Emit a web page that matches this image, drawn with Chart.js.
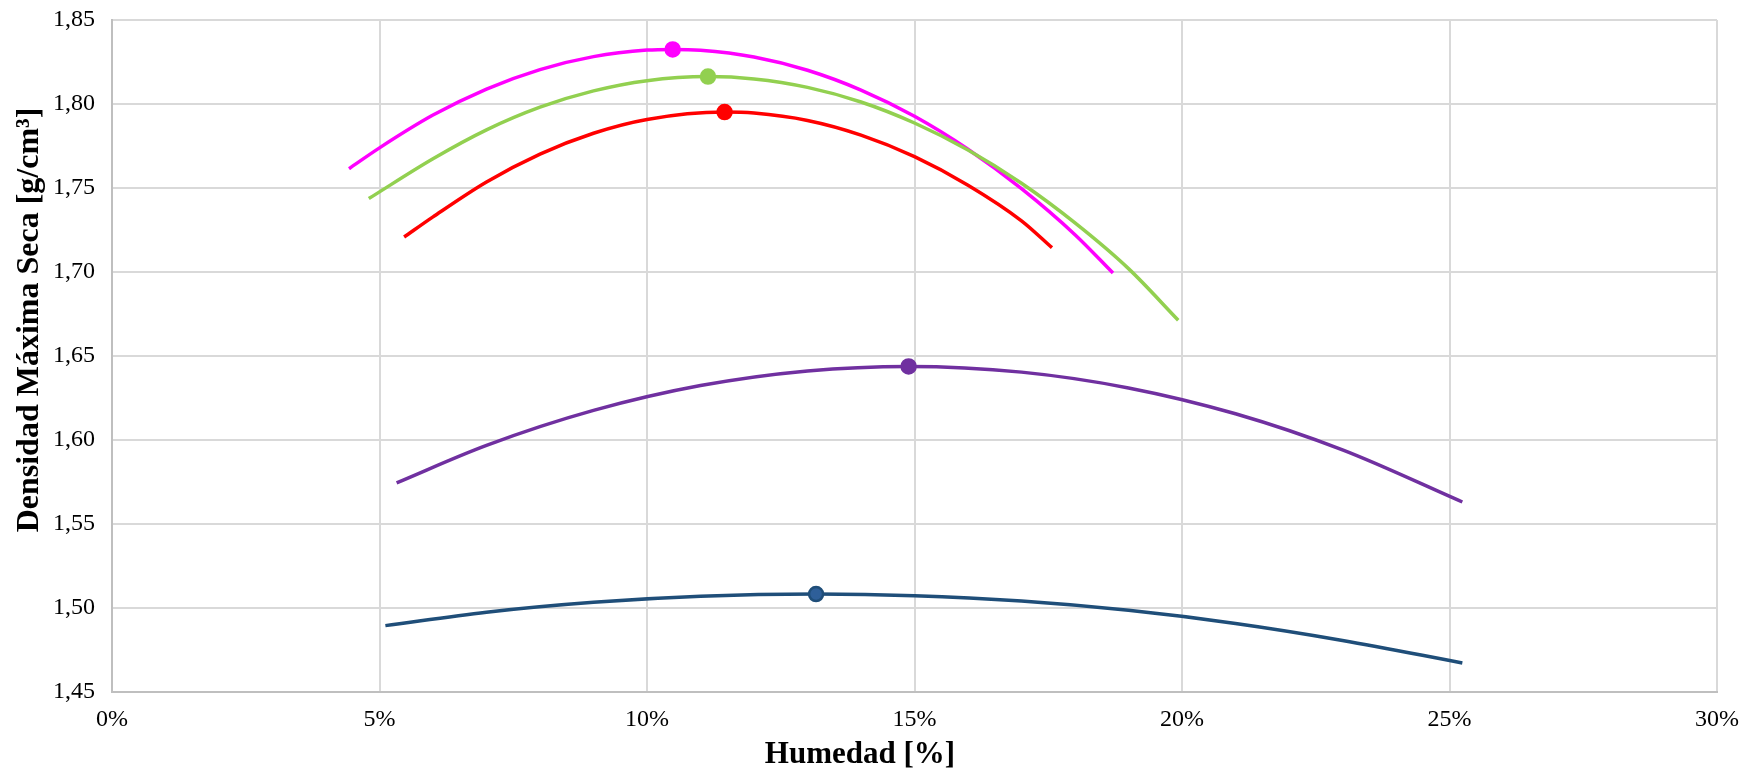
<!DOCTYPE html>
<html>
<head>
<meta charset="utf-8">
<script src="https://cdn.jsdelivr.net/npm/chart.js@4.4.1/dist/chart.umd.min.js"></script>
<style>
  html, body { margin: 0; padding: 0; background: #ffffff; }
  #wrap { width: 1747px; height: 772px; position: relative; }
</style>
</head>
<body>
<div id="wrap"><canvas id="c" width="1747" height="772"></canvas></div>
<script>
// ---- Data ----
const xTitle = 'Humedad [%]';
const yTitle = 'Densidad Máxima Seca [g/cm³]';

const pinkX = [4.43, 5, 6, 7, 8, 9, 10, 10.48, 11, 12, 13, 14, 15, 16, 17, 18, 18.71];
const pinkY = [1.7615, 1.7739, 1.7934, 1.8089, 1.8205, 1.8282, 1.8321, 1.8325, 1.8320, 1.8280, 1.8201, 1.8083, 1.7927, 1.7731, 1.7496, 1.7222, 1.6994];
const pinkPeak = [10.48, 1.8325];

const greenX = [4.8, 6, 7, 8, 9, 10, 11.14, 12, 13, 14, 15, 16, 17, 18, 19, 19.93];
const greenY = [1.7437, 1.7674, 1.7846, 1.7981, 1.8078, 1.8139, 1.8163, 1.8149, 1.8099, 1.8012, 1.7887, 1.7726, 1.7528, 1.7292, 1.7020, 1.6713];
const greenPeak = [11.14, 1.8163];

const redX = [5.46, 6, 7, 8, 9, 10, 11.45, 12, 13, 14, 15, 16, 17, 17.57];
const redY = [1.7208, 1.7328, 1.7536, 1.7702, 1.7826, 1.7908, 1.7952, 1.7946, 1.7902, 1.7815, 1.7687, 1.7517, 1.7305, 1.7145];
const redPeak = [11.45, 1.7952];

const purpleX = [5.32, 7, 9, 11, 13, 14.89, 17, 19, 21, 23, 25.24];
const purpleY = [1.5745, 1.5968, 1.6176, 1.6324, 1.6411, 1.6438, 1.6404, 1.6310, 1.6156, 1.5941, 1.5631];
const purplePeak = [14.89, 1.6438];

const blueX = [5.11, 7, 9, 11, 13.16, 15, 17, 19, 21, 23, 25.24];
const blueY = [1.4895, 1.4975, 1.5034, 1.5070, 1.5083, 1.5073, 1.5041, 1.4986, 1.4908, 1.4807, 1.4673];
const bluePeak = [13.16, 1.5083];

const xTicks = [0, 5, 10, 15, 20, 25, 30];
const yTicks = [1.45, 1.50, 1.55, 1.60, 1.65, 1.70, 1.75, 1.80, 1.85];

// ---- Build datasets ----
function pts(xs, ys) { return xs.map((x, i) => ({ x: x, y: ys[i] })); }
function curve(xs, ys, color) {
  return {
    data: pts(xs, ys), showLine: true, borderColor: color, backgroundColor: color,
    borderWidth: 3.5, pointRadius: 0, pointHoverRadius: 0,
    cubicInterpolationMode: 'monotone', fill: false, order: 2
  };
}
function peak(p, fillColor, borderColor) {
  return {
    data: [{ x: p[0], y: p[1] }], showLine: false,
    backgroundColor: fillColor, borderColor: borderColor, borderWidth: 2.5,
    pointRadius: 7, pointHoverRadius: 7, order: 1
  };
}

const datasets = [
  curve(blueX, blueY, '#1f4e79'),
  curve(purpleX, purpleY, '#7030a0'),
  curve(redX, redY, '#ff0000'),
  curve(greenX, greenY, '#92d050'),
  curve(pinkX, pinkY, '#ff00ff'),
  peak(bluePeak, '#2e5f99', '#1f4e79'),
  peak(purplePeak, '#7030a0', '#7030a0'),
  peak(redPeak, '#ff0000', '#ff0000'),
  peak(greenPeak, '#92d050', '#92d050'),
  peak(pinkPeak, '#ff00ff', '#ff00ff')
];

// Axis titles drawn at positions matching the reference
const titlePlugin = {
  id: 'axisTitles',
  afterDraw(chart) {
    const ctx = chart.ctx;
    ctx.save();
    ctx.fillStyle = '#000';
    ctx.textAlign = 'center';
    ctx.textBaseline = 'middle';
    ctx.font = 'bold 31px "Liberation Serif", "Times New Roman", serif';
    ctx.fillText(xTitle, 860, 755);
    ctx.font = 'bold 32px "Liberation Serif", "Times New Roman", serif';
    ctx.translate(30, 320);
    ctx.rotate(-Math.PI / 2);
    ctx.fillText(yTitle, 0, 0);
    ctx.restore();
  }
};

Chart.defaults.font.family = '"Liberation Serif", "Times New Roman", serif';
Chart.defaults.color = '#000';

new Chart(document.getElementById('c'), {
  type: 'scatter',
  data: { datasets: datasets },
  plugins: [titlePlugin],
  options: {
    responsive: false,
    animation: false,
    layout: { padding: { left: 0, right: 30, top: 20, bottom: 0 } },
    plugins: { legend: { display: false }, tooltip: { enabled: false } },
    scales: {
      x: {
        type: 'linear', min: 0, max: 30,
        afterBuildTicks(scale) { scale.ticks = xTicks.map(v => ({ value: v })); },
        afterFit(scale) { scale.height = 80; scale.paddingLeft = 0; scale.paddingRight = 0; },
        ticks: {
          font: { size: 24 }, color: '#000', padding: 13,
          callback: v => v + '%'
        },
        grid: { color: '#d9d9d9', lineWidth: 2, drawTicks: false },
        border: { color: '#bfbfbf', width: 2 }
      },
      y: {
        type: 'linear', min: 1.45, max: 1.85,
        afterBuildTicks(scale) { scale.ticks = yTicks.map(v => ({ value: v })); },
        afterFit(scale) { scale.width = 112; scale.paddingTop = 0; scale.paddingBottom = 0; },
        ticks: {
          font: { size: 24 }, color: '#000', padding: 17,
          callback: v => v.toFixed(2).replace('.', ',')
        },
        grid: { color: '#d9d9d9', lineWidth: 2, drawTicks: false },
        border: { color: '#bfbfbf', width: 2 }
      }
    }
  }
});
</script>
</body>
</html>
